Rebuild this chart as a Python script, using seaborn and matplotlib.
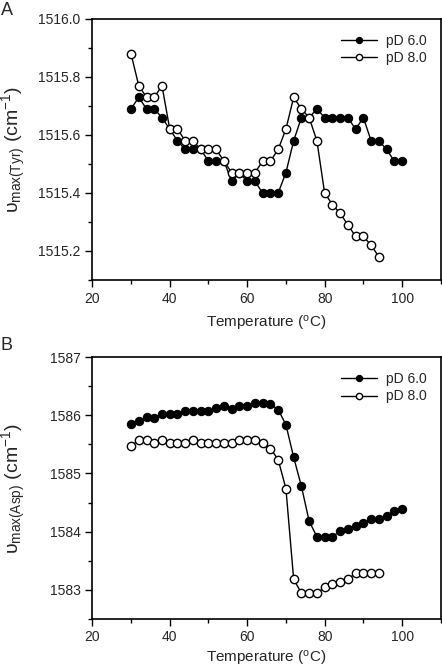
import numpy as np
import matplotlib
matplotlib.use("Agg")
import matplotlib.pyplot as plt
import seaborn as sns
from matplotlib.ticker import MultipleLocator

# ---- data ----
temp_a6 = [30,32,34,36,38,40,42,44,46,48,50,52,54,56,58,60,62,64,66,68,70,72,74,76,78,80,82,84,86,88,90,92,94,96,98,100]
tyr_pd6 = [1515.69,1515.73,1515.69,1515.69,1515.66,1515.62,1515.58,1515.55,1515.55,1515.55,1515.51,1515.51,1515.51,1515.44,1515.47,1515.44,1515.44,1515.40,1515.40,1515.40,1515.47,1515.58,1515.66,1515.66,1515.69,1515.66,1515.66,1515.66,1515.66,1515.62,1515.66,1515.58,1515.58,1515.55,1515.51,1515.51]
temp_a8 = [30,32,34,36,38,40,42,44,46,48,50,52,54,56,58,60,62,64,66,68,70,72,74,76,78,80,82,84,86,88,90,92,94]
tyr_pd8 = [1515.88,1515.77,1515.73,1515.73,1515.77,1515.62,1515.62,1515.58,1515.58,1515.55,1515.55,1515.55,1515.51,1515.47,1515.47,1515.47,1515.47,1515.51,1515.51,1515.55,1515.62,1515.73,1515.69,1515.66,1515.58,1515.40,1515.36,1515.33,1515.29,1515.25,1515.25,1515.22,1515.18]

temp_b6 = [30,32,34,36,38,40,42,44,46,48,50,52,54,56,58,60,62,64,66,68,70,72,74,76,78,80,82,84,86,88,90,92,94,96,98,100]
asp_pd6 = [1585.86,1585.91,1585.97,1585.96,1586.02,1586.02,1586.02,1586.07,1586.07,1586.07,1586.07,1586.12,1586.17,1586.11,1586.17,1586.17,1586.22,1586.22,1586.19,1586.10,1585.84,1585.28,1584.78,1584.18,1583.91,1583.91,1583.91,1584.01,1584.05,1584.10,1584.14,1584.22,1584.22,1584.27,1584.35,1584.39]
temp_b8 = [30,32,34,36,38,40,42,44,46,48,50,52,54,56,58,60,62,64,66,68,70,72,74,76,78,80,82,84,86,88,90,92,94]
asp_pd8 = [1585.47,1585.58,1585.58,1585.53,1585.58,1585.53,1585.53,1585.53,1585.58,1585.53,1585.53,1585.53,1585.53,1585.53,1585.58,1585.58,1585.58,1585.53,1585.43,1585.24,1584.74,1583.18,1582.94,1582.94,1582.94,1583.04,1583.09,1583.13,1583.18,1583.28,1583.28,1583.28,1583.28]

labels = ["pD 6.0", "pD 8.0"]
xticks = [20, 40, 60, 80, 100]

sns.set_theme(style="ticks")
plt.rcParams['font.family'] = ['Liberation Sans', 'DejaVu Sans']
plt.rcParams['mathtext.fontset'] = 'custom'
plt.rcParams['mathtext.rm'] = 'Liberation Sans'
plt.rcParams['mathtext.it'] = 'Liberation Sans'

fig = plt.figure(figsize=(4.42, 6.69), dpi=100)
axA = fig.add_axes([0.2088, 0.5815, 0.7885, 0.3901])
axB = fig.add_axes([0.2088, 0.0752, 0.7885, 0.3907])

def draw(ax, x6, y6, x8, y8, pad):
    sns.lineplot(x=x6, y=y6, ax=ax, color='black', lw=1.0, marker='o', markersize=6.0,
                 markerfacecolor='black', markeredgecolor='black', label=labels[0], zorder=2)
    sns.lineplot(x=x8, y=y8, ax=ax, color='black', lw=1.0, marker='o', markersize=6.0,
                 markerfacecolor='white', markeredgecolor='black', markeredgewidth=1.0,
                 label=labels[1], zorder=3)
    ax.set_xlim(20, 110)
    ax.set_xticks(xticks)
    ax.xaxis.set_minor_locator(MultipleLocator(10))
    for s in ax.spines.values():
        s.set_linewidth(1.2)
        s.set_color('black')
    ax.tick_params(which='major', direction='out', length=5, width=1.0, labelsize=10, color='black')
    ax.tick_params(which='minor', direction='out', length=3, width=1.0, color='black')
    ax.set_xlabel("Temperature ($^{\\mathrm{o}}$C)", fontsize=11, labelpad=pad)
    ax.legend(loc='upper right', frameon=False, fontsize=10, handlelength=2.6,
              handletextpad=0.6, borderaxespad=0.0, labelspacing=0.25, markerscale=0.75,
              bbox_to_anchor=(0.975, 0.965))

draw(axA, temp_a6, tyr_pd6, temp_a8, tyr_pd8, 6)
axA.set_ylim(1515.1, 1516.0)
axA.set_yticks([1515.2, 1515.4, 1515.6, 1515.8, 1516.0])
axA.yaxis.set_major_formatter(matplotlib.ticker.FormatStrFormatter('%.1f'))
axA.yaxis.set_minor_locator(MultipleLocator(0.1))
axA.set_ylabel("$\\upsilon_{\\mathrm{max(Tyr)}}$ (cm$^{\\mathrm{-1}}$)", fontsize=14)
axA.yaxis.set_label_coords(-0.185, 0.5)

draw(axB, temp_b6, asp_pd6, temp_b8, asp_pd8, 3)
axB.set_ylim(1582.5, 1587.0)
axB.set_yticks([1583, 1584, 1585, 1586, 1587])
axB.yaxis.set_minor_locator(MultipleLocator(0.5))
axB.set_ylabel("$\\upsilon_{\\mathrm{max(Asp)}}$ (cm$^{\\mathrm{-1}}$)", fontsize=14)
axB.yaxis.set_label_coords(-0.185, 0.5)

fig.text(0.002, 0.997, "A", fontsize=13, ha='left', va='top')
fig.text(0.002, 0.497, "B", fontsize=13, ha='left', va='top')

fig.savefig("out.png", dpi=100)
